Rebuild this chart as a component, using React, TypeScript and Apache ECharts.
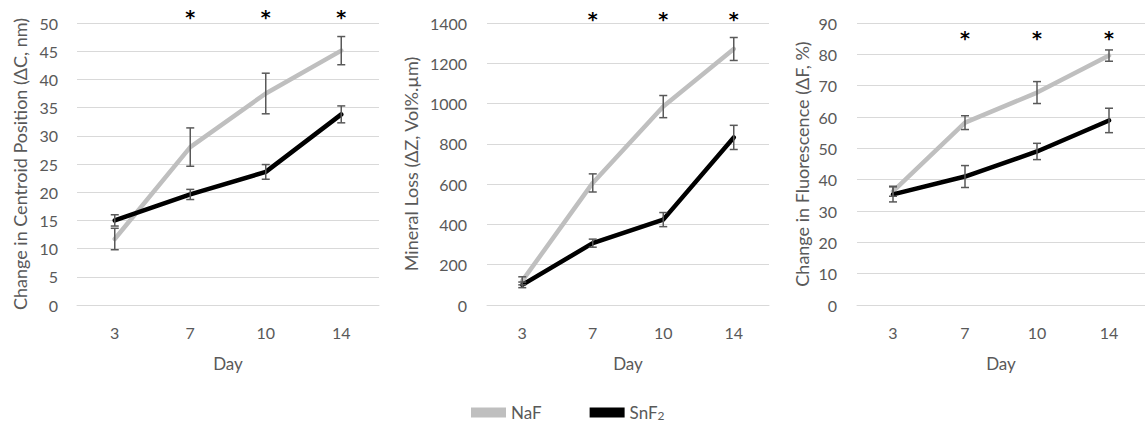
import React, { useEffect, useRef } from "react";
import * as echarts from "echarts";

const days = ["3", "7", "10", "14"];
const starDays = ["7", "10", "14"];

const centroidNaF = [11.7, 28.0, 37.5, 45.1];
const centroidNaFErr = [1.9, 3.4, 3.6, 2.5];
const centroidSnF2 = [15.0, 19.6, 23.6, 33.8];
const centroidSnF2Err = [1.0, 0.9, 1.3, 1.5];

const mineralNaF = [120, 606, 985, 1271];
const mineralNaFErr = [20, 45, 55, 57];
const mineralSnF2 = [100, 307, 424, 832];
const mineralSnF2Err = [14, 20, 35, 60];

const fluorNaF = [36.3, 58.2, 67.8, 79.6];
const fluorNaFErr = [1.6, 2.2, 3.5, 1.8];
const fluorSnF2 = [35.3, 41.0, 49.0, 58.9];
const fluorSnF2Err = [2.4, 3.5, 2.6, 3.9];

const yTitles = [
  "Change in Centroid Position (\u0394C, nm)",
  "Mineral Loss (\u0394Z, Vol%.\u00b5m)",
  "Change in Fluorescence (\u0394F, %)",
];
const yMax = [50, 1400, 90];
const yInterval = [5, 200, 10];
const starLevel = [51.1, 1420, 85.3];

const FONT = "Lato";
const GREY_TEXT = "#595959";

const errRender = (params: any, api: any) => {
  const x = api.value(0);
  const lo = api.value(1);
  const hi = api.value(2);
  const top = api.coord([x, hi]);
  const bot = api.coord([x, lo]);
  const w = 4;
  const style = { stroke: "#595959", lineWidth: 1.5 };
  return {
    type: "group",
    children: [
      { type: "line", shape: { x1: top[0], y1: top[1], x2: bot[0], y2: bot[1] }, style },
      { type: "line", shape: { x1: top[0] - w, y1: top[1], x2: top[0] + w, y2: top[1] }, style },
      { type: "line", shape: { x1: bot[0] - w, y1: bot[1], x2: bot[0] + w, y2: bot[1] }, style },
    ],
  };
};

const starRender = (params: any, api: any) => {
  const p = api.coord([api.value(0), api.value(1)]);
  return {
    type: "text",
    x: p[0],
    y: p[1],
    style: {
      text: "*",
      fill: "#000",
      fontSize: 19,
      fontFamily: "DejaVu Sans",
      fontWeight: "bold",
      align: "center",
      verticalAlign: "middle",
    },
  };
};

export default function App() {
  const ref = useRef<HTMLDivElement>(null);
  useEffect(() => {
    if (!ref.current) return;
    const chart = echarts.init(ref.current, undefined, { renderer: "svg" });
    const grids = [
      { left: 77, top: 23, width: 302, height: 282 },
      { left: 487, top: 23, width: 282, height: 282 },
      { left: 857, top: 23, width: 304, height: 282 },
    ];
    const nameGaps = [48, 67, 46];
    const labelMargins = [19, 20, 20];
    const sets = [
      [centroidNaF, centroidNaFErr, centroidSnF2, centroidSnF2Err],
      [mineralNaF, mineralNaFErr, mineralSnF2, mineralSnF2Err],
      [fluorNaF, fluorNaFErr, fluorSnF2, fluorSnF2Err],
    ];
    const xAxis = grids.map((_, i) => ({
      type: "category",
      gridIndex: i,
      data: days,
      boundaryGap: true,
      axisLine: { show: true, lineStyle: { color: "#d9d9d9", width: 1 } },
      axisTick: { show: false },
      axisLabel: { color: GREY_TEXT, fontSize: 16, fontFamily: FONT, margin: 19 },
      name: "Day",
      nameLocation: "middle",
      nameGap: 50,
      nameTextStyle: { color: GREY_TEXT, fontSize: 17, fontFamily: FONT },
    }));
    const yAxis = grids.map((_, i) => ({
      type: "value",
      gridIndex: i,
      min: 0,
      max: yMax[i],
      interval: yInterval[i],
      axisLine: { show: false },
      axisTick: { show: false },
      splitLine: { lineStyle: { color: "#d9d9d9", width: 1 } },
      axisLabel: {
        color: GREY_TEXT,
        fontSize: 16,
        fontFamily: FONT,
        margin: labelMargins[i],
        formatter: (v: number) => String(v),
      },
      name: yTitles[i],
      nameLocation: "middle",
      nameRotate: 90,
      nameGap: nameGaps[i],
      nameTextStyle: { color: GREY_TEXT, fontSize: 18, fontFamily: FONT },
    }));
    const series: any[] = [];
    sets.forEach(([naf, nafErr, snf, snfErr], i) => {
      series.push({
        type: "line",
        name: "NaF",
        xAxisIndex: i,
        yAxisIndex: i,
        data: naf,
        symbol: "none",
        color: "#bfbfbf",
        lineStyle: { color: "#bfbfbf", width: 4.5, cap: "round", join: "round" },
        z: 2,
      });
      series.push({
        type: "line",
        name: "SnF2",
        xAxisIndex: i,
        yAxisIndex: i,
        data: snf,
        symbol: "none",
        color: "#000000",
        lineStyle: { color: "#000000", width: 4.5, cap: "round", join: "round" },
        z: 3,
      });
      const errData = [
        ...naf.map((v, k) => [k, v - nafErr[k], v + nafErr[k]]),
        ...snf.map((v, k) => [k, v - snfErr[k], v + snfErr[k]]),
      ];
      series.push({
        type: "custom",
        xAxisIndex: i,
        yAxisIndex: i,
        data: errData,
        encode: { x: 0, y: [1, 2] },
        renderItem: errRender,
        clip: false,
        silent: true,
        z: 4,
      });
      series.push({
        type: "custom",
        xAxisIndex: i,
        yAxisIndex: i,
        data: starDays.map((d) => [days.indexOf(d), starLevel[i]]),
        encode: { x: 0, y: 1 },
        renderItem: starRender,
        clip: false,
        silent: true,
        z: 5,
      });
    });
    chart.setOption({
      animation: false,
      backgroundColor: "#ffffff",
      grid: grids,
      xAxis,
      yAxis,
      legend: {
        data: ["NaF", "SnF2"],
        left: 466,
        top: 399,
        icon: "rect",
        itemWidth: 35,
        itemHeight: 10,
        itemGap: 48,
        formatter: (name: string) => (name === "SnF2" ? "SnF{sub|2}" : name),
        textStyle: {
          color: GREY_TEXT,
          fontSize: 17,
          lineHeight: 17,
          fontFamily: FONT,
          rich: {
            sub: { fontSize: 12, lineHeight: 11, fontFamily: FONT, color: GREY_TEXT, verticalAlign: "bottom" },
          },
        },
      },
      series,
    });
    return () => chart.dispose();
  }, []);
  return (
    <div
      ref={ref}
      style={{ position: "absolute", left: 0, top: 0, width: 1145, height: 425 }}
    />
  );
}
